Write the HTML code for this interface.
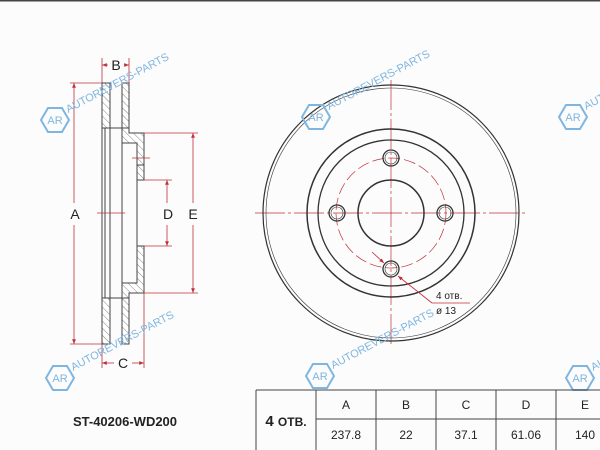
<!DOCTYPE html>
<html><head><meta charset="utf-8"><style>
html,body{margin:0;padding:0;background:#fcfcfc;}
svg{display:block;font-family:"Liberation Sans",Arial,sans-serif;}
</style></head><body>
<svg width="600" height="450" viewBox="0 0 600 450" xmlns="http://www.w3.org/2000/svg">
<defs>
<pattern id="h" width="5" height="5" patternUnits="userSpaceOnUse" patternTransform="rotate(-45)">
<rect width="5" height="5" fill="#fff"/><line x1="0" y1="0" x2="0" y2="5" stroke="#666" stroke-width="0.8"/>
</pattern>
<marker id="ar" viewBox="0 0 10 10" refX="10" refY="5" markerWidth="6" markerHeight="6" orient="auto-start-reverse"><path d="M0,1 L10,5 L0,9z" fill="#c0303a"/></marker>
<g id="wm">
<polygon points="-7,-12 7,-12 14,0 7,12 -7,12 -14,0" fill="none" stroke="#7fb6e0" stroke-width="2"/>
<text x="0" y="4" font-size="11" fill="#7fb6e0" text-anchor="middle">AR</text>
<text x="15" y="0" font-size="11" fill="#7fb6e0" transform="rotate(-28)">AUTOREVERS-PARTS</text>
</g>
</defs>
<rect width="600" height="450" fill="#fcfcfc"/>
<rect width="600" height="1.5" fill="#444"/>

<!-- side view -->
<g stroke="#444" stroke-width="1">
<rect x="102" y="83" width="8" height="45" fill="url(#h)"/>
<rect x="102" y="298" width="8" height="46" fill="url(#h)"/>
<rect x="122" y="83" width="7" height="45" fill="url(#h)"/>
<rect x="122" y="298" width="7" height="46" fill="url(#h)"/>
<path d="M129,128 L129,133 L144,133 L144,165 L137,165 L137,143 L122,143 L122,128 Z" fill="url(#h)"/>
<path d="M129,298 L129,293 L144,293 L144,246 L137,246 L137,283 L122,283 L122,298 Z" fill="url(#h)"/>
<rect x="137" y="165" width="7" height="15" fill="url(#h)"/>
<line x1="102" y1="128" x2="102" y2="298" fill="none"/>
<line x1="105" y1="128" x2="105" y2="298" fill="none"/>
<line x1="110" y1="128" x2="110" y2="298" fill="none"/>
<line x1="122" y1="143" x2="122" y2="283" fill="none"/>
<line x1="137" y1="165" x2="137" y2="246" fill="none"/>
<line x1="110" y1="128" x2="122" y2="128"/>
<line x1="110" y1="298" x2="122" y2="298"/>
</g>
<g stroke="#c0303a" stroke-width="0.8" fill="none">
<line x1="102" y1="58" x2="102" y2="83"/><line x1="129" y1="58" x2="129" y2="83"/>
<line x1="102" y1="65" x2="108" y2="65" marker-start="url(#ar)"/><line x1="124" y1="65" x2="129" y2="65" marker-end="url(#ar)"/>
<line x1="70" y1="83" x2="102" y2="83"/><line x1="70" y1="344" x2="102" y2="344"/>
<line x1="74" y1="83" x2="74" y2="203" marker-start="url(#ar)"/><line x1="74" y1="225" x2="74" y2="344" marker-end="url(#ar)"/>
<line x1="144" y1="133" x2="198" y2="133"/><line x1="144" y1="293" x2="198" y2="293"/>
<line x1="193" y1="133" x2="193" y2="203" marker-start="url(#ar)"/><line x1="193" y1="225" x2="193" y2="293" marker-end="url(#ar)"/>
<line x1="144" y1="180" x2="172" y2="180"/><line x1="144" y1="246" x2="172" y2="246"/>
<line x1="167" y1="180" x2="167" y2="203" marker-start="url(#ar)"/><line x1="167" y1="225" x2="167" y2="246" marker-end="url(#ar)"/>
<line x1="102" y1="344" x2="102" y2="368"/><line x1="144" y1="293" x2="144" y2="368"/>
<line x1="102" y1="363" x2="114" y2="363" marker-start="url(#ar)"/><line x1="132" y1="363" x2="144" y2="363" marker-end="url(#ar)"/>
<line x1="97" y1="213" x2="125" y2="213"/>
<line x1="132" y1="158" x2="150" y2="158"/>
</g>
<g font-size="14" fill="#222" text-anchor="middle">
<text x="116" y="70">B</text><text x="75" y="219">A</text><text x="168" y="219">D</text><text x="193" y="219">E</text><text x="123" y="368">C</text>
</g>

<!-- front view -->
<g stroke="#c0303a" stroke-width="0.7" fill="none">
<line x1="391" y1="80" x2="391" y2="345" stroke-dasharray="30,3,3,3"/>
<line x1="255" y1="213" x2="528" y2="213" stroke-dasharray="30,3,3,3"/>
<circle cx="391" cy="213" r="55" stroke-dasharray="12,4"/>
</g>
<g stroke="#333" fill="none">
<circle cx="391" cy="213" r="128" stroke-width="1.2"/>
<circle cx="391" cy="213" r="125" stroke-width="0.6"/>
<circle cx="391" cy="213" r="84" stroke-width="1.5"/>
<circle cx="391" cy="213" r="73" stroke-width="1.3"/>
<circle cx="391" cy="213" r="33" stroke-width="1.5"/>
<circle cx="391" cy="158" r="8" stroke-width="1.3"/><circle cx="391" cy="158" r="6" stroke-width="0.6"/>
<circle cx="391" cy="269" r="8" stroke-width="1.3"/><circle cx="391" cy="269" r="6" stroke-width="0.6"/>
<circle cx="337" cy="213" r="8" stroke-width="1.3"/><circle cx="337" cy="213" r="6" stroke-width="0.6"/>
<circle cx="445" cy="213" r="8" stroke-width="1.3"/><circle cx="445" cy="213" r="6" stroke-width="0.6"/>
</g>
<g stroke="#c0303a" stroke-width="0.8" fill="none">
<line x1="372" y1="252" x2="384" y2="263" marker-end="url(#ar)"/>
<line x1="398" y1="276" x2="432" y2="303" marker-start="url(#ar)"/>
<line x1="432" y1="303" x2="470" y2="303"/>
</g>
<text x="436" y="299" font-size="10" fill="#222">4 отв.</text>
<text x="436" y="314" font-size="10" fill="#222">ø 13</text>

<!-- watermarks -->
<use href="#wm" x="55" y="120"/>
<use href="#wm" x="316" y="117"/>
<use href="#wm" x="573" y="117"/>
<use href="#wm" x="60" y="378"/>
<use href="#wm" x="320" y="376"/>
<use href="#wm" x="580" y="378"/>

<!-- part number -->
<text x="125" y="426" font-size="13" font-weight="bold" fill="#222" text-anchor="middle">ST-40206-WD200</text>

<!-- table -->
<g stroke="#444" stroke-width="1" fill="none">
<line x1="256" y1="390" x2="600" y2="390"/>
<line x1="316" y1="419" x2="600" y2="419"/>
<line x1="256" y1="390" x2="256" y2="450"/>
<line x1="316" y1="390" x2="316" y2="450"/>
<line x1="376" y1="390" x2="376" y2="450"/>
<line x1="436" y1="390" x2="436" y2="450"/>
<line x1="496" y1="390" x2="496" y2="450"/>
<line x1="556" y1="390" x2="556" y2="450"/>
</g>
<text x="286" y="426" font-size="15" font-weight="bold" fill="#222" text-anchor="middle">4 <tspan font-size="12">ОТВ.</tspan></text>
<g font-size="12" fill="#222" text-anchor="middle">
<text x="346" y="409">A</text><text x="406" y="409">B</text><text x="466" y="409">C</text><text x="526" y="409">D</text><text x="585" y="409">E</text>
<text x="346" y="439">237.8</text><text x="406" y="439">22</text><text x="466" y="439">37.1</text><text x="526" y="439">61.06</text><text x="585" y="439">140</text>
</g>
</svg>
</body></html>
